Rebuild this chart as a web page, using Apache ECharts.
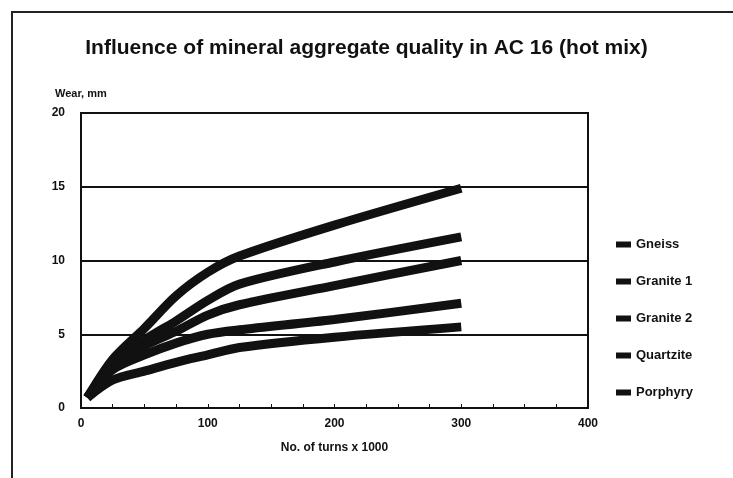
<!DOCTYPE html>
<html>
<head>
<meta charset="utf-8">
<script src="https://cdn.jsdelivr.net/npm/echarts@6/dist/echarts.min.js"></script>
<style>
html, body { margin: 0; padding: 0; background: #fff; }
#mainChart { width: 733px; height: 478px; }
</style>
</head>
<body>
<div id="mainChart"></div>
<script>
// turns x 1000
var turns = [5, 25, 50, 75, 100, 125, 200, 300];
var gneiss    = [0.7, 3.3, 5.4, 7.6, 9.2, 10.3, 12.4, 14.9];
var granite1  = [0.7, 3.0, 4.6, 5.9, 7.3, 8.4, 9.9, 11.6];
var granite2  = [0.7, 2.8, 4.2, 5.2, 6.3, 7.0, 8.3, 10.0];
var quartzite = [0.7, 2.6, 3.6, 4.4, 5.0, 5.3, 6.0, 7.1];
var porphyry  = [0.7, 1.9, 2.5, 3.1, 3.6, 4.1, 4.8, 5.5];
var seriesNames = ["Gneiss", "Granite 1", "Granite 2", "Quartzite", "Porphyry"];
var seriesValues = [gneiss, granite1, granite2, quartzite, porphyry];

var myChart = echarts.init(document.getElementById("mainChart"));
var font = "Liberation Sans";

var series = [];
for (var i = 0; i < seriesNames.length; i++) {
    var pts = [];
    for (var j = 0; j < turns.length; j++) {
        pts.push([turns[j], seriesValues[i][j]]);
    }
    series.push({
        name: seriesNames[i],
        type: "line",
        data: pts,
        smooth: 0.3,
        showSymbol: false,
        lineStyle: { color: "#111", width: 9 },
        itemStyle: { color: "#111" }
    });
}

var option = {
    backgroundColor: "#fff",
    animation: false,
    title: {
        text: "Influence of mineral aggregate quality in AC 16 (hot mix)",
        left: "center",
        top: 33,
        textStyle: { fontFamily: font, fontSize: 21, fontWeight: "bold", color: "#111" }
    },
    legend: {
        orient: "vertical",
        left: 611,
        top: 233,
        itemGap: 24,
        itemWidth: 15,
        itemHeight: 6,
        icon: "rect",
        textStyle: { fontFamily: font, fontSize: 13, fontWeight: "bold", color: "#111" },
        data: seriesNames
    },
    grid: {
        left: 81, right: 145, top: 113, bottom: 70,
        show: true, borderColor: "#111", borderWidth: 2
    },
    xAxis: {
        type: "value",
        min: 0, max: 400, interval: 25,
        name: "No. of turns x 1000",
        nameLocation: "middle",
        nameGap: 34,
        nameTextStyle: { fontFamily: font, fontSize: 12, fontWeight: "bold", color: "#111" },
        axisLine: { lineStyle: { color: "#111", width: 2 } },
        axisTick: { inside: true, length: 4, lineStyle: { color: "#111" } },
        axisLabel: {
            fontFamily: font, fontSize: 12, fontWeight: "bold", color: "#111", margin: 10,
            formatter: function (v) { return v % 100 === 0 ? String(v) : ""; }
        },
        splitLine: { show: false }
    },
    yAxis: {
        type: "value",
        min: 0, max: 20, interval: 5,
        name: "Wear, mm",
        nameLocation: "end",
        nameGap: 14,
        nameTextStyle: { fontFamily: font, fontSize: 11, fontWeight: "bold", color: "#111", align: "left", padding: [0, 0, 0, -26] },
        axisLine: { show: true, lineStyle: { color: "#111", width: 2 } },
        axisTick: { show: false },
        axisLabel: { fontFamily: font, fontSize: 12, fontWeight: "bold", color: "#111", margin: 16 },
        splitLine: { lineStyle: { color: "#111", width: 2 } }
    },
    graphic: [{
        type: "rect",
        shape: { x: 12, y: 12, width: 740, height: 500 },
        style: { fill: "none", stroke: "#222", lineWidth: 2 }
    }],
    series: series
};

myChart.setOption(option);
</script>
</body>
</html>
